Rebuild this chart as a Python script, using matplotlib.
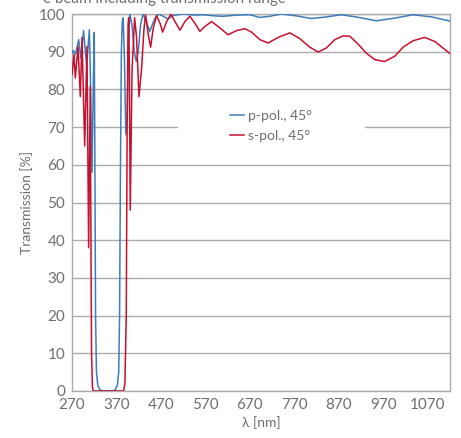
import numpy as np
import matplotlib
matplotlib.use('Agg')
from matplotlib import pyplot as plt
from matplotlib.patches import Rectangle

plt.rcParams['font.family'] = ['Lato', 'DejaVu Sans']

# p-pol., 45 deg (wavelength nm, transmission %)
p_wl = [270, 273, 277, 281, 285, 290, 296, 300, 303, 309, 312, 315, 318, 320,
        321.5, 323, 325, 328, 333, 340, 362, 367, 372, 375, 377, 379, 381, 383,
        385, 388, 391, 394, 397, 400, 405, 410, 414.5, 419, 424, 429.6, 437,
        445, 451, 456.5, 464, 475, 486, 497.6, 520, 545, 565, 590, 610, 640,
        670, 692.5, 715, 741, 775, 808.6, 840, 876, 910, 954.6, 995, 1037,
        1080, 1117, 1120]
p_tr = [89.6, 90.3, 89.2, 91, 93.2, 88.3, 95.6, 90, 86.5, 95.8, 80, 58, 82, 95.1,
        60, 20, 5, 1.5, 0.3, 0, 0, 0.3, 1.5, 5, 20, 60, 90, 98,
        99, 88, 68, 72, 92, 100, 97, 90, 87.4, 90, 97, 100, 98,
        95.4, 97.3, 98.9, 100, 99.4, 98.7, 99.6, 100, 99.7, 99.8, 99.5, 99.4, 99.7,
        99.8, 99.1, 99.4, 100, 99.5, 98.8, 99.2, 99.8, 99.2, 98.2, 98.9, 99.8,
        99.2, 98.2, 98.1]

# s-pol., 45 deg
s_wl = [270, 274.5, 277.5, 283.5, 288.7, 292.5, 298.5, 303.7, 307.4, 311, 313,
        314, 316, 318, 386, 389, 392, 394, 396, 397.5, 399, 401, 405, 410.8,
        415, 420.6, 426.6, 431.8, 435.5, 441.5, 446.8, 452.8, 460, 467.8, 473.8,
        482.8, 492.5, 501.5, 512.7, 524, 535, 546, 557.6, 568.9, 584, 602.6,
        621, 640, 658.8, 673.8, 692.5, 711, 733.6, 759.9, 782, 804.8, 823.5,
        842, 861, 879.7, 894.7, 913.5, 932, 951, 973, 995.8, 1014.5, 1037,
        1063, 1086, 1104, 1117, 1120]
s_tr = [83.9, 89.2, 83, 91.4, 78.1, 93.8, 65, 91.4, 38, 80.8, 30,
        10, 1, 0, 0, 2, 20, 70, 97, 99, 85, 48, 85, 99,
        94, 78.1, 85.7, 96, 99.8, 94.5, 91.2, 96.3, 99.6, 97.6, 95.2,
        98, 100, 98, 95.7, 98, 99.4, 97.6, 95.4, 96.7, 98, 96.3,
        94.5, 95.6, 96.1, 95.2, 93.2, 92.3, 93.8, 95, 93.5, 91.2, 89.9,
        91, 93.2, 94.2, 94.1, 92, 89.6, 87.9, 87.4, 88.8, 91.2, 92.9,
        93.8, 92.7, 91, 89.8, 89.5]

xticks = [270, 370, 470, 570, 670, 770, 870, 970, 1070]
yticks = list(range(0, 101, 10))

grey = '#6e6e6e'
fig = plt.figure(figsize=(4.61, 4.38), dpi=100)
ax = fig.add_axes([72/461, 1 - 391/438, 378/461, 377/438])

ax.plot(p_wl, p_tr, color='#3d7dbd', lw=1.1, label='p-pol., 45°', zorder=3)
ax.plot(s_wl, s_tr, color='#c8102e', lw=1.1, label='s-pol., 45°', zorder=3)

ax.set_xlim(270, 1120)
ax.set_ylim(0, 100)
ax.set_xticks(xticks)
ax.set_yticks(yticks)
ax.tick_params(length=0, colors=grey, labelsize=11, pad=5)
ax.yaxis.grid(True, color='#ababab', lw=1)
ax.set_axisbelow(True)
for sp in ax.spines.values():
    sp.set_color('#ababab')
    sp.set_linewidth(1)

ax.set_xlabel('λ [nm]', color=grey, fontsize=10, labelpad=3)
ax.set_ylabel('Transmission [%]', color=grey, fontsize=10, labelpad=4)

# white box behind legend that hides the grid line
ax.add_patch(Rectangle((0.28, 0.634), 0.495, 0.138, transform=ax.transAxes,
                       facecolor='white', edgecolor='none', zorder=2))
leg = ax.legend(loc='center left', bbox_to_anchor=(0.4, 0.703), frameon=False,
                fontsize=10, handlelength=1.0, handletextpad=0.3,
                labelspacing=0.55, borderpad=0)
for t in leg.get_texts():
    t.set_color(grey)

fig.text(43/461, 1 - 3/438, 'e beam including transmission range', color=grey,
         fontsize=11, va='baseline', ha='left')

fig.savefig('out.png', dpi=100)
